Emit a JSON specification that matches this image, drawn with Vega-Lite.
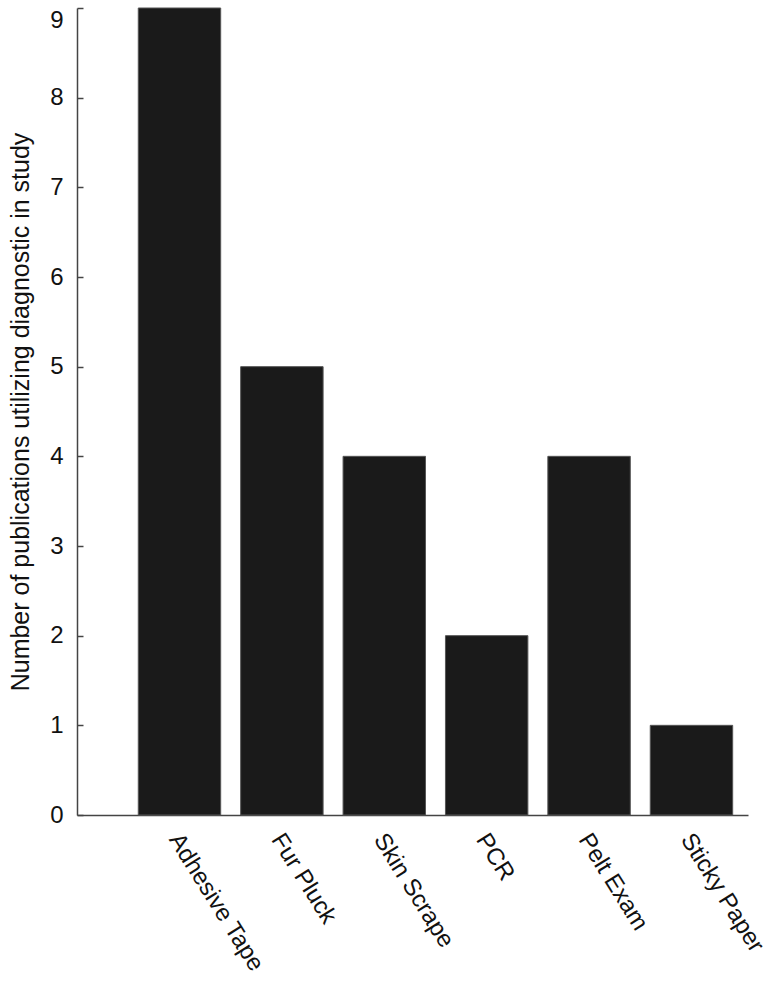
{
  "$schema": "https://vega.github.io/schema/vega-lite/v6.json",
  "width": 671,
  "height": 807,
  "autosize": {"type": "none"},
  "padding": {"left": 77, "top": 8, "right": 27, "bottom": 168},
  "background": "white",
  "data": {"values": [
    {"method": "Adhesive Tape", "count": 9},
    {"method": "Fur Pluck", "count": 5},
    {"method": "Skin Scrape", "count": 4},
    {"method": "PCR", "count": 2},
    {"method": "Pelt Exam", "count": 4},
    {"method": "Sticky Paper", "count": 1}
  ]},
  "mark": {"type": "bar", "color": "#1a1a1a", "stroke": "#555555", "strokeWidth": 1},
  "encoding": {
    "x": {
      "field": "method", "type": "nominal", "sort": null,
      "scale": {"paddingInner": 0.195, "paddingOuter": 0.374, "align": 0.8},
      "axis": {
        "title": null, "ticks": false, "labelAngle": 58, "labelAlign": "left", "labelBaseline": "top",
        "labelPadding": 14, "labelOffset": 5, "labelFont": "Liberation Sans", "labelFontSize": 24, "labelColor": "#111111",
        "domainColor": "#444444", "domainWidth": 1.5, "labelLimit": 0
      }
    },
    "y": {
      "field": "count", "type": "quantitative",
      "scale": {"domain": [0, 9], "nice": false},
      "axis": {
        "title": "Number of publications utilizing diagnostic in study",
        "titleFont": "Liberation Sans", "titleFontSize": 25, "titleFontWeight": "normal", "titleColor": "#111111",
        "titlePadding": 16,
        "values": [0,1,2,3,4,5,6,7,8,9], "grid": false,
        "tickSize": -6, "tickColor": "#444444", "tickWidth": 1.5,
        "labelPadding": 20, "labelFont": "Liberation Sans", "labelFontSize": 24, "labelColor": "#111111",
        "labelBaseline": {"condition": {"test": "datum.value == 9", "value": "top"}, "value": "middle"},
        "domainColor": "#444444", "domainWidth": 1.5
      }
    }
  },
  "config": {"view": {"stroke": null}}
}
